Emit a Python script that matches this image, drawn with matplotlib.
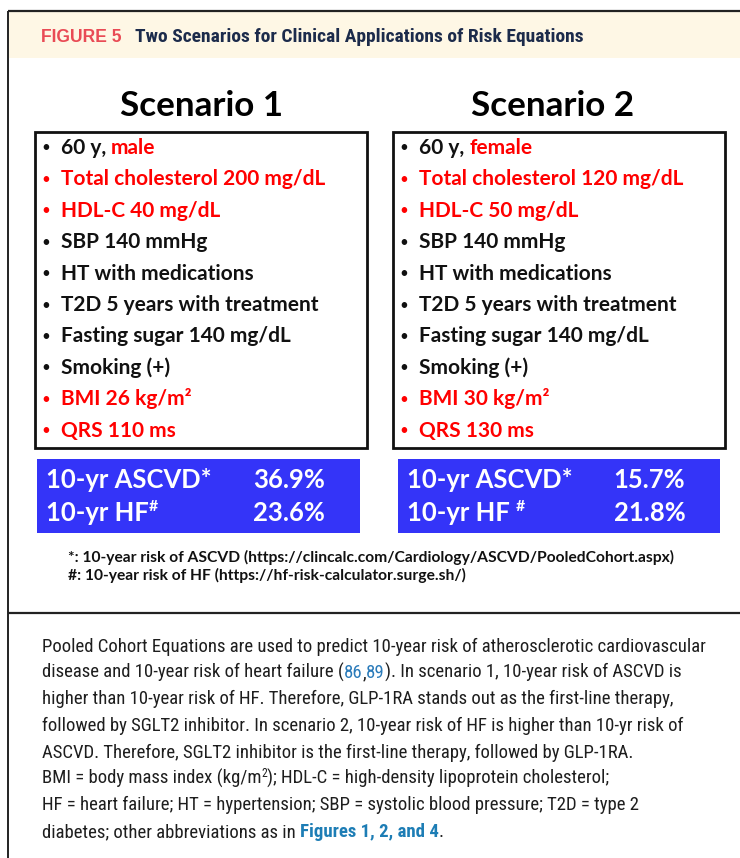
import matplotlib
matplotlib.use('Agg')
import matplotlib.pyplot as plt
from matplotlib.patches import Rectangle
from matplotlib import font_manager

# ---- data ----
scenarios = ['Scenario 1', 'Scenario 2']
sex = ['male', 'female']
total_chol = [200, 120]
hdl_c = [40, 50]
bmi = [26, 30]
qrs = [110, 130]
shared_rows = ['SBP 140 mmHg', 'HT with medications', 'T2D 5 years with treatment',
               'Fasting sugar 140 mg/dL', 'Smoking (+)']
ascvd_risk = [36.9, 15.7]
hf_risk = [23.6, 21.8]
hf_label = ['10-yr HF', '10-yr HF ']

fig_label = 'FIGURE 5'
fig_title = 'Two Scenarios for Clinical Applications of Risk Equations'
footnotes = ['*: 10-year risk of ASCVD (https://clincalc.com/Cardiology/ASCVD/PooledCohort.aspx)',
             '#: 10-year risk of HF (https://hf-risk-calculator.surge.sh/)']

BLACK = '#111111'
RED = '#FF0000'
LINK = '#2B7BBA'
TXT = '#1E1E1E'

caption = [
    [('Pooled Cohort Equations are used to predict 10-year risk of atherosclerotic cardiovascular', TXT, None)],
    [('disease and 10-year risk of heart failure (', TXT, None), ('86', LINK, None), (',', TXT, None),
     ('89', LINK, None), ('). In scenario 1, 10-year risk of ASCVD is', TXT, None)],
    [('higher than 10-year risk of HF. Therefore, GLP-1RA stands out as the first-line therapy,', TXT, None)],
    [('followed by SGLT2 inhibitor. In scenario 2, 10-year risk of HF is higher than 10-yr risk of', TXT, None)],
    [('ASCVD. Therefore, SGLT2 inhibitor is the first-line therapy, followed by GLP-1RA.', TXT, None)],
    [('BMI = body mass index (kg/m', TXT, None), ('2', TXT, 'sup'),
     ('); HDL-C = high-density lipoprotein cholesterol;', TXT, None)],
    [('HF = heart failure; HT = hypertension; SBP = systolic blood pressure; T2D = type 2', TXT, None)],
    [('diabetes; other abbreviations as in ', TXT, None), ('Figures 1, 2, and 4', '#1D7DB5', 'bold'),
     ('.', TXT, None)],
]

# ---- fonts ----
names = {f.name for f in font_manager.fontManager.ttflist}
if 'Liberation Sans Narrow' in names:
    COND = 'Liberation Sans Narrow'
elif 'Roboto Condensed' in names:
    COND = 'Roboto Condensed'
else:
    COND = 'Liberation Sans'
BODY = 'Lato'

fig = plt.figure(figsize=(7.4, 8.58), dpi=100)
ax = fig.add_axes([0, 0, 1, 1])
ax.set_xlim(0, 740)
ax.set_ylim(858, 0)
ax.axis('off')
r = fig.canvas.get_renderer()


def text_w(s, size, family, weight='normal'):
    # width in px, spaces counted (pad with x on both sides)
    def w(txt):
        t = ax.text(0, 0, txt, fontsize=size, family=family, weight=weight)
        out = t.get_window_extent(renderer=r).width
        t.remove()
        return out
    return w('x' + s + 'x') - w('xx')


def fit(s, target, family, weight='normal'):
    return 20 * target / text_w(s, 20, family, weight)


def draw_runs(x, y, runs, size, family, weight='normal'):
    for s, color, style in runs:
        fs, wt, dy = size, weight, 0
        if style == 'sup':
            fs = size * 0.62
            dy = -size * 0.5
        if style == 'bold':
            wt = 'bold'
        ax.text(x, y + dy, s, fontsize=fs, family=family, weight=wt, color=color,
                ha='left', va='baseline')
        x += text_w(s, fs, family, wt)
    return x


# ---- frame and header ----
ax.add_patch(Rectangle((9, 12), 731, 46, facecolor='#FEF7E5', edgecolor='none'))
ax.plot([8, 740], [11, 11], color='#222222', lw=1.6, solid_capstyle='butt')
ax.plot([8, 8], [10.5, 858], color='#222222', lw=1.4, solid_capstyle='butt')
ax.plot([8, 740], [613, 613], color='#222222', lw=1.6, solid_capstyle='butt')

fs = fit(fig_label, 81, 'Liberation Sans', 'bold')
ax.text(41, 42, fig_label, fontsize=fs, family='Liberation Sans', weight='bold',
        color='#E94B55', va='baseline')
fs = fit(fig_title, 447, COND, 'bold')
ax.text(135, 42, fig_title, fontsize=fs, family=COND, weight='bold',
        color='#1C2B4B', va='baseline')

# ---- scenario panels ----
box_left = [35.2, 393.3]
blue_left = [37.3, 398.3]
blue_w = [322.7, 321.7]
title_cx = [201.5, 552.5]

title_fs = fit(scenarios[0], 163, BODY, 'bold')
bullet_fs = fit('Total cholesterol 200 mg/dL', 264, BODY, 'bold')
risk_fs = fit('10-yr ASCVD*', 166, BODY, 'bold')
foot_fs = fit(footnotes[0], 609, BODY, 'bold')

for i in range(2):
    ax.text(title_cx[i], 115.7, scenarios[i], fontsize=title_fs, family=BODY, weight='bold',
            color='black', ha='center', va='baseline')
    bx = box_left[i]
    ax.add_patch(Rectangle((bx, 132.3), 331.5, 315.4, facecolor='white',
                           edgecolor='#111111', lw=2))
    rows = [[('60 y, ', BLACK, None), (sex[i], RED, None)],
            [('Total cholesterol %d mg/dL' % total_chol[i], RED, None)],
            [('HDL-C %d mg/dL' % hdl_c[i], RED, None)]]
    rows += [[(s, BLACK, None)] for s in shared_rows]
    rows += [[('BMI %d kg/m²' % bmi[i], RED, None)],
             [('QRS %d ms' % qrs[i], RED, None)]]
    for k, row in enumerate(rows):
        y = 154 + 31.4 * k
        ax.text(bx + 11, y - 1.5, '•', fontsize=bullet_fs * 0.72, family=BODY,
                color=row[0][1], ha='center', va='baseline')
        draw_runs(bx + 25.5, y, row, bullet_fs, BODY, 'bold')

    lx = blue_left[i]
    ax.add_patch(Rectangle((lx, 459.3), blue_w[i], 74, facecolor='#3434F8', edgecolor='none'))
    draw_runs(lx + 8.5, 488.3, [('10-yr ASCVD*', 'white', None)], risk_fs, BODY, 'bold')
    draw_runs(lx + 8.5, 520.7, [(hf_label[i], 'white', None), ('#', 'white', 'sup')],
              risk_fs, BODY, 'bold')
    ax.text(lx + 215.5, 488.3, '%.1f%%' % ascvd_risk[i], fontsize=risk_fs, family=BODY,
            weight='bold', color='white', va='baseline')
    ax.text(lx + 215.5, 520.7, '%.1f%%' % hf_risk[i], fontsize=risk_fs, family=BODY,
            weight='bold', color='white', va='baseline')

for k, s in enumerate(footnotes):
    ax.text(68, 561.7 + 18.5 * k, s, fontsize=foot_fs, family=BODY, weight='bold',
            color=BLACK, va='baseline')

# ---- caption ----
cap_fs = fit(caption[0][0][0], 665, COND)
for k, line in enumerate(caption):
    draw_runs(42, 651.5 + 26.5 * k, line, cap_fs, COND)

fig.savefig('out.png', dpi=100)
